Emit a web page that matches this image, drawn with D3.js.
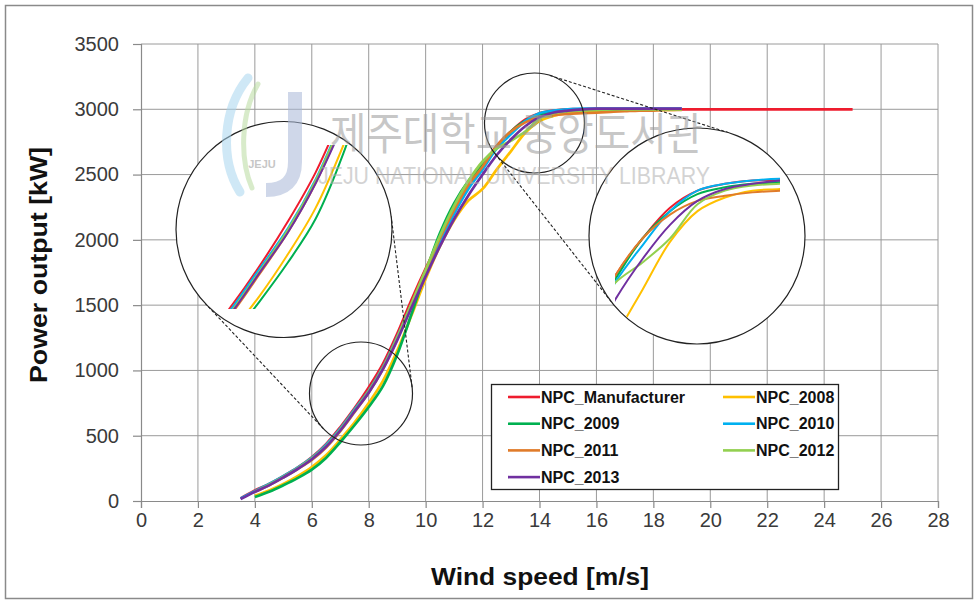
<!DOCTYPE html>
<html><head><meta charset="utf-8">
<script src="https://cdn.jsdelivr.net/npm/d3@7"></script>
<style>body{margin:0;background:#fff}svg{display:block}</style>
</head><body>
<svg id="chart" width="979" height="605"></svg>
<script>
// ---------------- DATA ----------------
const windManufacturer = [3.5,4,4.5,5,5.5,6,6.5,7,7.5,8,8.5,9,9.5,10,10.5,11,11.5,12,12.5,13,13.5,14,14.5,15,15.5,16,16.5,17,17.5,18,18.5,19,19.5,20,20.5,21,21.5,22,22.5,23,23.5,24,24.5,25];
const powerManufacturer = [20,80,130,190,255,335,435,565,710,870,1050,1280,1540,1780,2000,2210,2410,2570,2720,2830,2920,2970,2990,3000,3000,3000,3000,3000,3000,3000,3000,3000,3000,3000,3000,3000,3000,3000,3000,3000,3000,3000,3000,3000];
const windYears = [3.5,4,4.5,5,5.5,6,6.5,7,7.5,8,8.5,9,9.5,10,10.5,11,11.5,12,12.5,13,13.5,14,14.5,15,15.5,16,16.5,17,17.5,18,18.5,19];
const power2008 = [null,40,80,130,190,260,350,470,600,750,920,1150,1420,1700,1950,2150,2300,2390,2540,2680,2820,2910,2950,2970,2975,2985,2990,2990,2995,2995,2995,3000];
const power2009 = [null,30,70,120,175,240,330,450,580,720,880,1120,1430,1750,2050,2280,2450,2580,2710,2830,2910,2960,2980,2990,2995,3000,3000,3000,3000,3000,3000,3000];
const power2010 = [20,75,130,190,255,330,430,555,700,845,1025,1255,1505,1745,1980,2200,2390,2540,2700,2810,2910,2970,2990,3000,3005,3005,3005,3005,3005,3005,3005,3005];
const power2011 = [null,70,120,180,245,315,410,535,680,830,1010,1240,1500,1760,2010,2230,2420,2560,2720,2830,2900,2940,2955,2965,2970,2975,2980,2985,2990,2990,2995,2995];
const power2012 = [null,70,125,185,250,325,420,545,690,840,1020,1250,1510,1770,2030,2260,2450,2600,2700,2760,2830,2930,2970,2985,2990,2995,3000,3000,3000,3000,3000,3000];
const power2013 = [15,70,120,180,245,320,415,540,685,830,1010,1230,1480,1720,1950,2160,2340,2500,2650,2770,2870,2940,2975,2990,3000,3005,3005,3005,3005,3005,3005,3005];
const seriesNames = ["NPC_Manufacturer","NPC_2008","NPC_2009","NPC_2010","NPC_2011","NPC_2012","NPC_2013"];
const seriesColors = ["#ee1c2e","#ffc000","#00b050","#00b0f0","#e07b2a","#92d050","#7030a0"];
const xTicks = [0,2,4,6,8,10,12,14,16,18,20,22,24,26,28];
const yTicks = [0,500,1000,1500,2000,2500,3000,3500];

const seriesX = [windManufacturer, windYears, windYears, windYears, windYears, windYears, windYears];
const seriesY = [powerManufacturer, power2008, power2009, power2010, power2011, power2012, power2013];
const series = seriesNames.map((n,i)=>({name:n,color:seriesColors[i],
  pts: seriesX[i].map((w,j)=>({w:w,p:seriesY[i][j]})).filter(d=>d.p!=null)}));

// ---------------- LAYOUT ----------------
const svg = d3.select("#chart");
const X0=141, X1=938, Y0=501, Y1=44;
const x = d3.scaleLinear().domain([0,28]).range([X0,X1]);
const y = d3.scaleLinear().domain([0,3500]).range([Y0,Y1]);
const FONT = "'Liberation Sans', Arial, sans-serif";

svg.append("rect").attr("x",5.5).attr("y",5.5).attr("width",967).attr("height",593)
  .attr("fill","#fff").attr("stroke","#8a8a8a").attr("stroke-width",1.5);

// grid
const grid = svg.append("g");
grid.selectAll(".vg").data(xTicks.slice(1)).join("line")
  .attr("x1",d=>x(d)).attr("x2",d=>x(d)).attr("y1",Y1).attr("y2",Y0)
  .attr("stroke","#9a9a9a").attr("stroke-width",1);
grid.selectAll(".hg").data(yTicks.slice(1)).join("line")
  .attr("x1",X0).attr("x2",X1).attr("y1",d=>y(d)).attr("y2",d=>y(d))
  .attr("stroke","#9a9a9a").attr("stroke-width",1);

// axes
const xAxis = d3.axisBottom(x).tickValues(xTicks).tickSize(7).tickPadding(5).tickFormat(d3.format("d"));
const yAxis = d3.axisLeft(y).tickValues(yTicks).tickSize(8).tickPadding(14).tickFormat(d3.format("d"));
const gx = svg.append("g").attr("transform",`translate(0,${Y0})`).call(xAxis);
const gy = svg.append("g").attr("transform",`translate(${X0},0)`).call(yAxis);
[gx,gy].forEach(g=>{
  g.select(".domain").attr("stroke","#8a8a8a").attr("stroke-width",1.2);
  g.selectAll(".tick line").attr("stroke","#8a8a8a").attr("stroke-width",1.2);
  g.selectAll(".tick text").attr("font-family",FONT).attr("font-size",20).attr("fill","#3a3a3a");
});

// titles
svg.append("text").attr("x",540).attr("y",585).attr("text-anchor","middle")
  .attr("font-family",FONT).attr("font-weight","bold").attr("font-size",24)
  .attr("textLength",218).attr("lengthAdjust","spacingAndGlyphs").attr("fill","#111")
  .text("Wind speed [m/s]");
svg.append("text").attr("transform","translate(47,265) rotate(-90)").attr("text-anchor","middle")
  .attr("font-family",FONT).attr("font-weight","bold").attr("font-size",24)
  .attr("textLength",236).attr("lengthAdjust","spacingAndGlyphs").attr("fill","#111")
  .text("Power output [kW]");

// main lines
const line = d3.line().x(d=>x(d.w)).y(d=>y(d.p)).curve(d3.curveCatmullRom.alpha(0.5));
svg.append("g").selectAll("path").data(series).join("path")
  .attr("d",d=>line(d.pts)).attr("fill","none").attr("stroke",d=>d.color)
  .attr("stroke-width",2.7).attr("stroke-linejoin","round");

// ---------------- INSETS ----------------
const smallL = {cx:361, cy:393.5, r:51.5}, bigL = {cx:284, cy:229.5, r:108};
const smallR = {cx:534.5, cy:123, r:50}, bigR = {cx:697, cy:236, r:108};

function tangents(a,b){
  const dx=b.cx-a.cx, dy=b.cy-a.cy, d=Math.hypot(dx,dy);
  const base=Math.atan2(dy,dx), ang=Math.acos((b.r-a.r)/d);
  return [base+ang, base-ang].map(t=>{
    const nx=Math.cos(t), ny=Math.sin(t);
    return [a.cx-a.r*nx, a.cy-a.r*ny, b.cx-b.r*nx, b.cy-b.r*ny];
  });
}
const dash = svg.append("g");
[[smallL,bigL],[smallR,bigR]].forEach(([s,b])=>{
  tangents(s,b).forEach(t=>{
    dash.append("line").attr("x1",t[0]).attr("y1",t[1]).attr("x2",t[2]).attr("y2",t[3])
      .attr("stroke","#222").attr("stroke-width",1.1).attr("stroke-dasharray","3,2");
  });
});

[smallL, smallR].forEach(c=>svg.append("circle").attr("cx",c.cx).attr("cy",c.cy).attr("r",c.r)
  .attr("fill","none").attr("stroke","#222").attr("stroke-width",1.2));

const defs = svg.append("defs");
function inset(c, id, xs, ys, clipRect){
  defs.append("clipPath").attr("id",id).append("circle").attr("cx",c.cx).attr("cy",c.cy).attr("r",c.r-1);
  defs.append("clipPath").attr("id",id+"r").append("rect")
    .attr("x",clipRect[0]).attr("y",clipRect[1]).attr("width",clipRect[2]).attr("height",clipRect[3]);
  svg.append("circle").attr("cx",c.cx).attr("cy",c.cy).attr("r",c.r)
    .attr("fill","#fff").attr("stroke","#222").attr("stroke-width",1.2);
  const ln = d3.line().x(d=>xs(d.w)).y(d=>ys(d.p)).curve(d3.curveCatmullRom.alpha(0.5));
  svg.append("g").attr("clip-path",`url(#${id})`).append("g").attr("clip-path",`url(#${id}r)`)
    .selectAll("path").data(series).join("path")
    .attr("d",d=>ln(d.pts)).attr("fill","none").attr("stroke",d=>d.color)
    .attr("stroke-width",2).attr("stroke-linejoin","round");
}
inset(bigL,"clipL",
  d3.scaleLinear().domain([6.87,8.74]).range([225,329]),
  d3.scaleLinear().domain([550,1150]).range([309,145]),
  [170,145,230,164]);
inset(bigR,"clipR",
  d3.scaleLinear().domain([12.5,15.5]).range([615,780]),
  d3.scaleLinear().domain([2650,3010]).range([300,177]),
  [615,120,165,240]);

// ---------------- LEGEND ----------------
const leg = svg.append("g");
leg.append("rect").attr("x",491.5).attr("y",384.5).attr("width",347).attr("height",105)
  .attr("fill","#fff").attr("stroke","#222").attr("stroke-width",1.3);
const legItems = leg.selectAll("g.item").data(series).join("g")
  .attr("transform",(d,i)=>`translate(${i%2===0?508:723},${397+Math.floor(i/2)*26.7})`);
legItems.append("line").attr("x1",0).attr("x2",32).attr("y1",0).attr("y2",0)
  .attr("stroke",d=>d.color).attr("stroke-width",2.6);
legItems.append("text").attr("x",33).attr("y",0).attr("dy","0.36em")
  .attr("font-family",FONT).attr("font-weight","bold").attr("font-size",16).attr("fill","#111")
  .text(d=>d.name);

// ---------------- WATERMARK ----------------
const wm = svg.append("g").attr("opacity",0.55).attr("pointer-events","none");
wm.append("path").attr("d","M248,78 C222,110 220,160 240,192").attr("fill","none")
  .attr("stroke","#a9d6ef").attr("stroke-width",9).attr("stroke-linecap","round");
wm.append("path").attr("d","M258,84 C240,115 240,160 252,188").attr("fill","none")
  .attr("stroke","#b9dca0").attr("stroke-width",5).attr("stroke-linecap","round");
wm.append("path").attr("d","M295,92 V162 Q295,190 266,190").attr("fill","none")
  .attr("stroke","#a8b8d8").attr("stroke-width",14);
wm.append("text").attr("x",262).attr("y",168).attr("text-anchor","middle")
  .attr("font-family",FONT).attr("font-weight","bold").attr("font-size",11).attr("fill","#999").text("JEJU");
wm.append("text").attr("x",330).attr("y",150)
  .attr("font-family","'Noto Sans CJK KR', sans-serif").attr("font-size",44)
  .attr("textLength",373).attr("lengthAdjust","spacingAndGlyphs").attr("fill","#9a9a9a")
  .text("제주대학교 중앙도서관");
wm.append("text").attr("x",318).attr("y",184)
  .attr("font-family",FONT).attr("font-size",24)
  .attr("textLength",392).attr("lengthAdjust","spacingAndGlyphs").attr("fill","#b0b0b0")
  .text("JEJU NATIONAL UNIVERSITY LIBRARY");
</script>
</body></html>
